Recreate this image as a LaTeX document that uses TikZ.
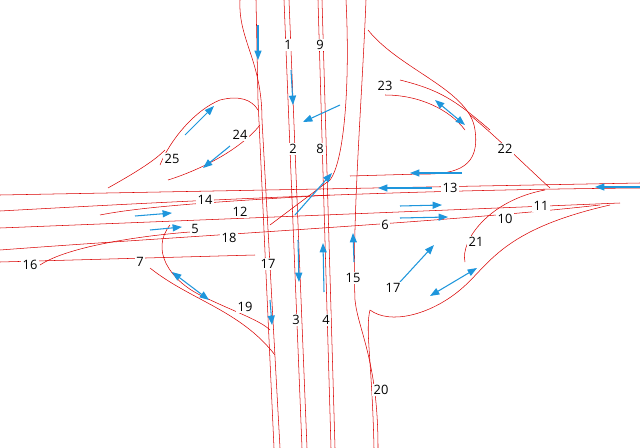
\documentclass[tikz,border=0pt]{standalone}
\usepackage{fontspec}
\setmainfont{Open Sans}
\usetikzlibrary{arrows.meta}
\definecolor{arrowblue}{HTML}{1E96DC}
\begin{document}
\begin{tikzpicture}[x=0.03cm,y=-0.03cm,
  road/.style={draw=red!85!black,line width=0.45pt},
  flow/.style={draw=arrowblue,line width=0.9pt,-{Triangle[length=8pt,width=6pt]}},
  flow2/.style={draw=arrowblue,line width=0.9pt,{Triangle[length=8pt,width=6pt]}-{Triangle[length=8pt,width=6pt]}},
  lbl/.style={font=\fontsize{11}{11}\selectfont,fill=white,inner sep=1pt}]
\useasboundingbox (0,0) rectangle (640,448);
% vertical roads
\draw[road] (240,0) .. controls (238,40) and (262,60) .. (262,120) -- (280,448);
\draw[road] (256,0) -- (258,100) -- (274,448);
\draw[road] (284,0) -- (302,448);
\draw[road] (289,0) -- (307,448);
\draw[road] (318,0) -- (331,448);
\draw[road] (322,0) -- (335,448);
\draw[road] (346,0) .. controls (350,80) and (345,160) .. (330,180) -- (270,225);
\draw[road] (366,0) .. controls (362,100) and (352,220) .. (355,300) .. controls (358,330) and (378,360) .. (378,448);
\draw[road] (374,448) .. controls (372,360) and (365,330) .. (370,310);
% right loop
\draw[road] (368,30) .. controls (400,70) and (470,90) .. (475,130) .. controls (480,165) and (460,175) .. (420,174) -- (350,176);
\draw[road] (385,95) .. controls (420,95) and (450,110) .. (465,130);
\draw[road] (470,115) .. controls (500,140) and (530,170) .. (550,188);
\draw[road] (400,80) .. controls (440,90) and (455,100) .. (490,130);
% left loop
\draw[road] (160,165) .. controls (170,140) and (195,110) .. (220,100) .. controls (240,95) and (252,100) .. (258,110);
\draw[road] (108,188) .. controls (140,170) and (155,160) .. (165,150);
\draw[road] (168,180) .. controls (200,170) and (240,150) .. (260,125);
% horizontal roads
\draw[road] (0,195) -- (640,183);
\draw[road] (0,211) .. controls (200,200) and (400,190) .. (640,188);
\draw[road] (0,228) .. controls (200,220) and (400,212) .. (620,203);
\draw[road] (0,250) .. controls (200,235) and (450,222) .. (600,205);
\draw[road] (0,262) -- (255,255);
\draw[road] (40,265) .. controls (70,245) and (150,235) .. (190,232);
\draw[road] (100,215) .. controls (150,205) and (250,200) .. (330,195);
% lower loops
\draw[road] (150,268) .. controls (190,300) and (240,310) .. (275,355);
\draw[road] (170,225) .. controls (150,250) and (170,280) .. (200,295) .. controls (230,310) and (260,320) .. (270,330);
\draw[road] (370,310) .. controls (390,325) and (430,315) .. (460,290) .. controls (490,265) and (500,230) .. (610,205);
\draw[road] (545,190) .. controls (490,200) and (460,240) .. (465,262);
% arrows
\draw[flow] (258,25) -- (258,60);
\draw[flow] (291,70) -- (293,105);
\draw[flow] (185,135) -- (214,106);
\draw[flow] (230,146) -- (203,168);
\draw[flow] (340,105) -- (303,122);
\draw[flow2] (435,100) -- (465,125);
\draw[flow] (462,173) -- (410,173);
\draw[flow] (432,188) -- (378,188);
\draw[flow] (640,187) -- (595,187);
\draw[flow] (295,215) -- (332,173);
\draw[flow] (135,216) -- (172,213);
\draw[flow] (150,230) -- (182,227);
\draw[flow] (400,206) -- (442,205);
\draw[flow] (400,218) -- (448,217);
\draw[flow] (298,240) -- (299,282);
\draw[flow] (324,292) -- (323,243);
\draw[flow] (354,262) -- (353,233);
\draw[flow] (400,282) -- (434,245);
\draw[flow2] (477,268) -- (430,296);
\draw[flow] (270,300) -- (272,325);
\draw[flow2] (172,272) -- (209,300);
% labels
\node[lbl] (n1) at (288,45) {1};
\node[lbl] (n9) at (320,45) {9};
\node[lbl] (n23) at (385,86) {23};
\node[lbl] (n24) at (240,135) {24};
\node[lbl] (n25) at (172,159) {25};
\node[lbl] (n2) at (293,149) {2};
\node[lbl] (n8) at (320,149) {8};
\node[lbl] (n22) at (505,149) {22};
\node[lbl] (n14) at (205,200) {14};
\node[lbl] (n13) at (450,188) {13};
\node[lbl] (n12) at (240,212) {12};
\node[lbl] (n11) at (541,206) {11};
\node[lbl] (n10) at (505,219) {10};
\node[lbl] (n5) at (195,229) {5};
\node[lbl] (n18) at (229,238) {18};
\node[lbl] (n6) at (385,225) {6};
\node[lbl] (n21) at (476,242) {21};
\node[lbl] (n16) at (30,265) {16};
\node[lbl] (n7) at (140,262) {7};
\node[lbl] (n17a) at (268,264) {17};
\node[lbl] (n15) at (353,278) {15};
\node[lbl] (n17b) at (393,288) {17};
\node[lbl] (n19) at (245,307) {19};
\node[lbl] (n3) at (296,320) {3};
\node[lbl] (n4) at (326,320) {4};
\node[lbl] (n20) at (381,390) {20};
\end{tikzpicture}
\end{document}
